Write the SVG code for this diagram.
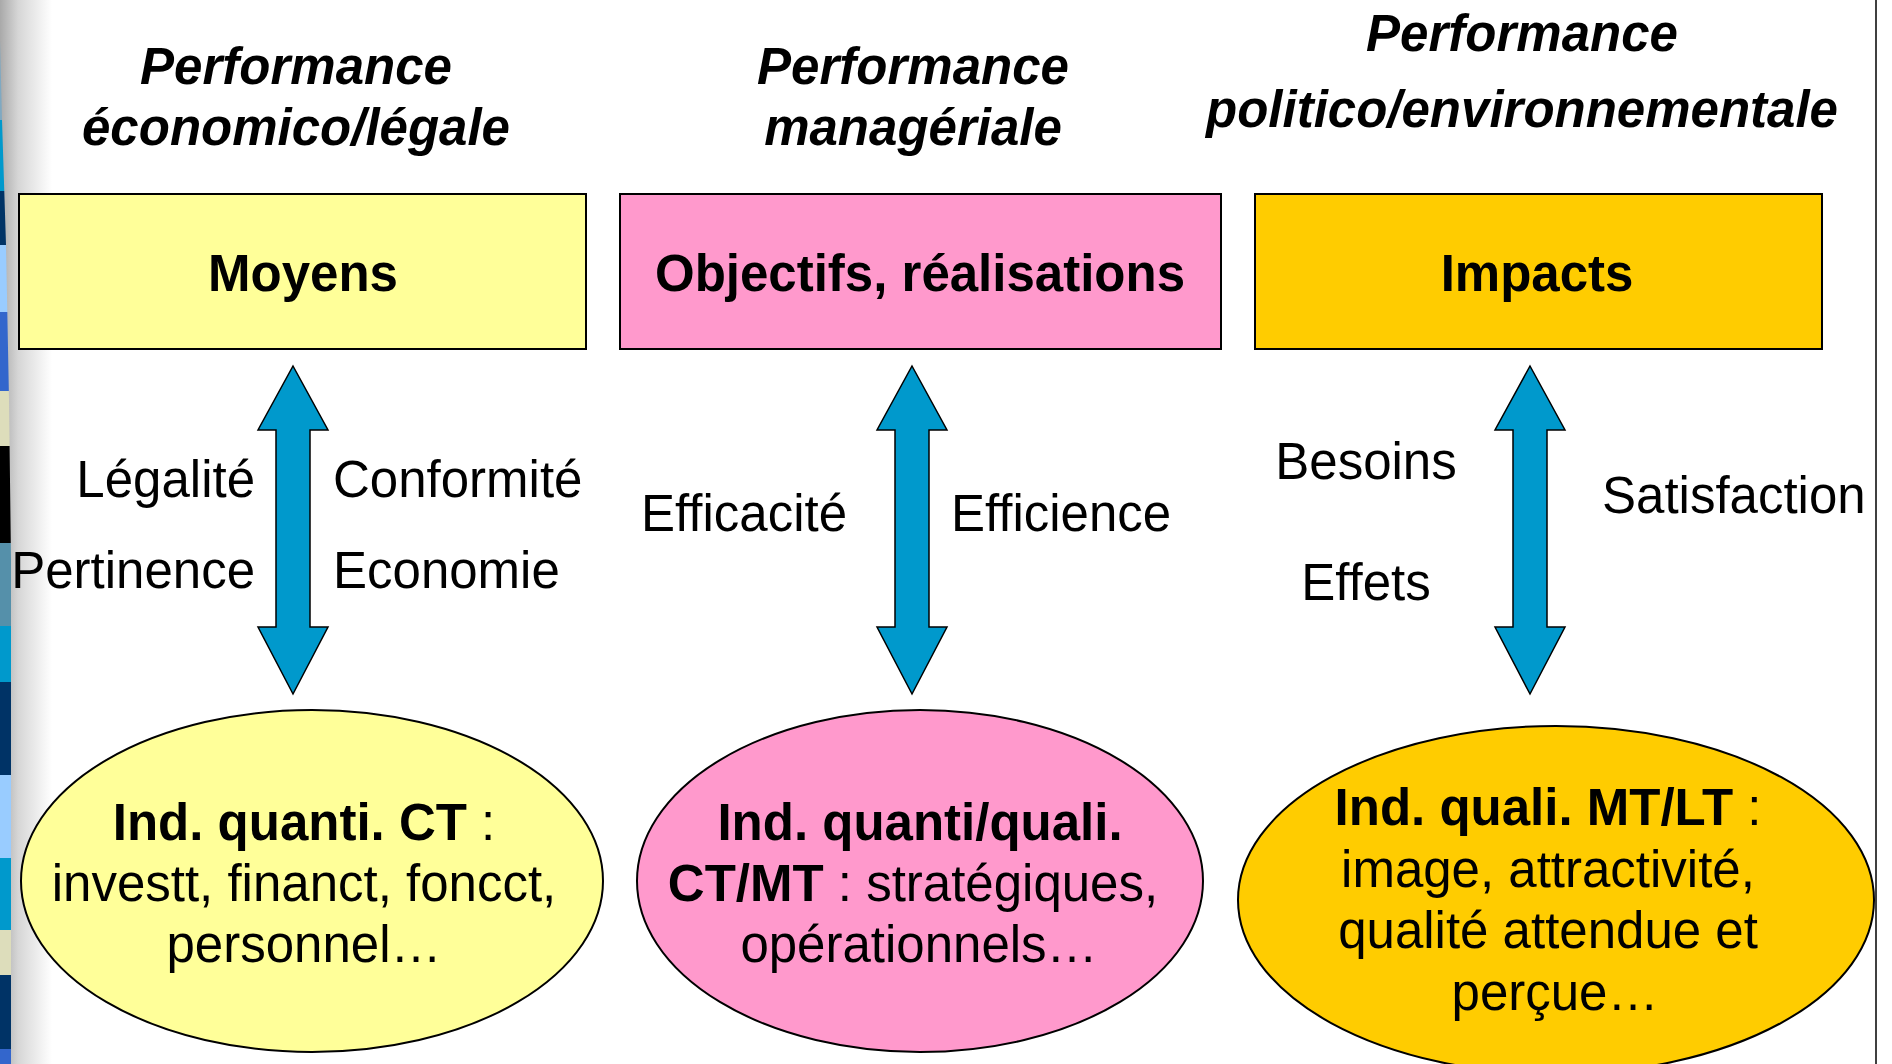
<svg xmlns="http://www.w3.org/2000/svg" width="1892" height="1064" viewBox="0 0 1892 1064">
<style>
text{font-family:"Liberation Sans",Arial,sans-serif;font-size:51px;fill:#000}
.title{font-weight:bold;font-style:italic;text-anchor:middle}
.boxlbl{font-weight:bold;text-anchor:middle}
.mid{text-anchor:middle}
.end{text-anchor:end}
.b{font-weight:bold}
.box{stroke:#000;stroke-width:2}
.ell{stroke:#000;stroke-width:2}
.arrow{fill:#0099CC;stroke:#000;stroke-width:1.5;stroke-linejoin:miter}
</style>
<defs>
<linearGradient id="shadow" x1="0" y1="0" x2="1" y2="0">
<stop offset="0" stop-color="#a9a9a9"/>
<stop offset="0.35" stop-color="#d6d6d6"/>
<stop offset="1" stop-color="#ffffff"/>
</linearGradient>
<clipPath id="stripClip"><polygon points="0,40 2,120 6,245 9,400 11,560 11,1064 0,1064"/></clipPath>
<clipPath id="slideClip"><rect x="0" y="0" width="1876" height="1064"/></clipPath>
</defs>
<rect x="0" y="0" width="1892" height="1064" fill="#ffffff"/>
<g id="sidebar">
<rect x="0" y="0" width="52" height="1064" fill="url(#shadow)"/>
<g clip-path="url(#stripClip)">
<rect x="0" y="40" width="12" height="80" fill="#7fa9c2"/>
<rect x="0" y="120" width="12" height="71" fill="#0099CC"/>
<rect x="0" y="191" width="12" height="54" fill="#003366"/>
<rect x="0" y="245" width="12" height="67" fill="#99CCFF"/>
<rect x="0" y="312" width="12" height="79" fill="#3366CC"/>
<rect x="0" y="391" width="12" height="55" fill="#DDDDBB"/>
<rect x="0" y="446" width="12" height="97" fill="#000000"/>
<rect x="0" y="543" width="12" height="83" fill="#5590AA"/>
<rect x="0" y="626" width="12" height="56" fill="#0099CC"/>
<rect x="0" y="682" width="12" height="93" fill="#003366"/>
<rect x="0" y="775" width="12" height="83" fill="#99CCFF"/>
<rect x="0" y="858" width="12" height="72" fill="#0099CC"/>
<rect x="0" y="930" width="12" height="45" fill="#DDDDBB"/>
<rect x="0" y="975" width="12" height="74" fill="#003366"/>
<rect x="0" y="1049" width="12" height="15" fill="#3366CC"/>
</g>
</g>
<line x1="1876" y1="0" x2="1876" y2="1064" stroke="#000" stroke-width="1.5"/>
<g id="titles">
<text class="title" x="296" y="84">Performance</text>
<text class="title" x="296" y="145">économico/légale</text>
<text class="title" x="913" y="84">Performance</text>
<text class="title" x="913" y="145">managériale</text>
<text class="title" x="1522" y="51">Performance</text>
<text class="title" x="1522" y="127">politico/environnementale</text>
</g>
<g id="node-moyens">
<rect class="box" x="19" y="194" width="567" height="155" fill="#FFFF99"/>
<text class="boxlbl" x="303" y="291">Moyens</text>
</g>
<g id="node-objectifs">
<rect class="box" x="620" y="194" width="601" height="155" fill="#FF99CC"/>
<text class="boxlbl" x="920" y="291">Objectifs, réalisations</text>
</g>
<g id="node-impacts">
<rect class="box" x="1255" y="194" width="567" height="155" fill="#FFCC00"/>
<text class="boxlbl" x="1537" y="291">Impacts</text>
</g>
<g id="connectors">
<path class="arrow" d="M293,366 L328,430 L310,430 L310,627 L328,627 L293,694 L258,627 L276,627 L276,430 L258,430 Z"/>
<path class="arrow" d="M912,366 L947,430 L929,430 L929,627 L947,627 L912,694 L877,627 L895,627 L895,430 L877,430 Z"/>
<path class="arrow" d="M1530,366 L1565,430 L1547,430 L1547,627 L1565,627 L1530,694 L1495,627 L1513,627 L1513,430 L1495,430 Z"/>
</g>
<g id="labels">
<text class="end" x="255" y="497">Légalité</text>
<text x="333" y="497">Conformité</text>
<text class="end" x="255" y="588">Pertinence</text>
<text x="333" y="588">Economie</text>
<text class="end" x="847" y="531">Efficacité</text>
<text x="951" y="531">Efficience</text>
<text class="mid" x="1366" y="479">Besoins</text>
<text class="mid" x="1366" y="600">Effets</text>
<text x="1602" y="513">Satisfaction</text>
</g>
<g id="node-ind-ct">
<ellipse class="ell" cx="312" cy="881" rx="291" ry="171" fill="#FFFF99"/>
<text class="mid" x="304" y="840"><tspan class="b">Ind. quanti. CT</tspan> :</text>
<text class="mid" x="304" y="901">investt, financt, foncct,</text>
<text class="mid" x="304" y="962">personnel…</text>
</g>
<g id="node-ind-ctmt">
<ellipse class="ell" cx="920" cy="881" rx="283" ry="171" fill="#FF99CC"/>
<text class="mid b" x="920" y="840">Ind. quanti/quali.</text>
<text class="mid" x="913" y="901"><tspan class="b">CT/MT</tspan> : stratégiques,</text>
<text class="mid" x="919" y="962">opérationnels…</text>
</g>
<g id="node-ind-mtlt" clip-path="url(#slideClip)">
<ellipse class="ell" cx="1556" cy="900" rx="318" ry="174" fill="#FFCC00"/>
<text class="mid" x="1548" y="825"><tspan class="b">Ind. quali. MT/LT</tspan> :</text>
<text class="mid" x="1548" y="887">image, attractivité,</text>
<text class="mid" x="1548" y="948">qualité attendue et</text>
<text class="mid" x="1555" y="1010">perçue…</text>
</g>
</svg>
